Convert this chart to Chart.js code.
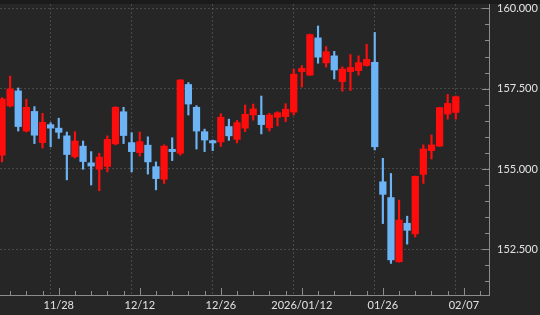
<!DOCTYPE html>
<html>
<head>
<meta charset="utf-8">
<script src="https://cdn.jsdelivr.net/npm/chart.js@4.4.1/dist/chart.umd.min.js"></script>
<style>
  html, body { margin: 0; padding: 0; background: #262626; }
  canvas { display: block; }
</style>
</head>
<body>
<canvas id="chart" width="540" height="315"></canvas>
<script>
// daily candles, left to right (index 0 is the first visible bar)
const opens  = [155.43, 156.96, 157.43, 156.18, 156.79, 155.82, 156.38, 156.27, 156.03, 155.38,
                155.71, 155.19, 154.99, 155.08, 155.78, 156.78, 155.82, 155.51, 155.74, 155.07,
                154.68, 155.61, 155.49, 157.63, 156.92, 156.16, 155.88, 155.84, 156.32, 155.92,
                156.27, 156.68, 156.67, 156.28, 156.61, 156.63, 156.77, 158.03, 157.92, 159.08,
                158.30, 158.52, 157.72, 158.03, 158.06, 158.22, 158.32, 154.60, 154.11, 152.11,
                153.31, 152.98, 154.83, 155.57, 155.71, 156.71, 156.76];
const highs  = [157.22, 157.89, 157.52, 157.17, 156.94, 156.73, 156.44, 156.58, 156.15, 156.16,
                155.87, 155.54, 155.49, 156.03, 156.94, 156.92, 156.13, 156.15, 156.00, 155.22,
                155.75, 155.97, 157.78, 157.69, 156.97, 156.24, 155.90, 156.72, 156.55, 156.51,
                156.99, 157.02, 157.27, 156.73, 156.78, 157.03, 158.11, 158.22, 159.20, 159.45,
                158.81, 158.66, 158.18, 158.56, 158.52, 158.88, 159.25, 155.33, 154.86, 154.03,
                153.53, 154.78, 155.75, 156.06, 156.92, 157.32, 157.27];
const lows   = [155.22, 156.93, 156.18, 156.15, 155.79, 155.65, 155.69, 155.95, 154.66, 155.34,
                154.99, 154.50, 154.32, 154.91, 155.75, 155.79, 154.91, 155.40, 154.84, 154.35,
                154.55, 155.26, 155.43, 156.68, 155.62, 155.54, 155.57, 155.70, 155.89, 155.81,
                156.16, 156.52, 156.09, 156.18, 156.34, 156.47, 156.68, 157.55, 157.91, 158.29,
                158.17, 157.80, 157.42, 157.44, 157.92, 158.20, 155.59, 153.30, 152.06, 152.10,
                152.66, 152.88, 154.55, 155.31, 155.70, 156.55, 156.55];
const closes = [157.18, 157.49, 156.32, 156.92, 156.05, 156.45, 156.27, 156.14, 155.45, 155.87,
                155.23, 155.09, 155.37, 155.92, 156.92, 156.04, 155.54, 155.85, 155.22, 154.70,
                155.71, 155.54, 157.77, 157.02, 156.18, 155.90, 155.81, 156.61, 156.03, 156.44,
                156.70, 156.87, 156.38, 156.68, 156.75, 156.86, 157.95, 158.13, 159.18, 158.48,
                158.65, 158.08, 158.11, 158.16, 158.31, 158.41, 155.69, 154.21, 152.17, 153.41,
                153.09, 154.77, 155.62, 155.75, 156.91, 157.04, 157.25];

// x axis: labelled bars and the minor tick bars
const labelIdx  = [7, 17, 27, 37, 47, 57];
const labelText = ['11/28', '12/12', '12/26', '2026/01/12', '01/26', '02/07'];
const xTicks = [1, 3, 5, 7, 9, 11, 13, 15, 17, 19, 21, 23, 25, 27, 29, 31, 33, 35, 37, 39,
                41, 43, 45, 47, 49, 51, 53, 55, 57, 59];
// y axis ticks, labelled every 2.5
const yTicks = [151.5, 152, 152.5, 153, 153.5, 154, 154.5, 155, 155.5, 156, 156.5, 157,
                157.5, 158, 158.5, 159, 159.5, 160];

const RED = '#ff0d0d';
const BLUE = '#6db4f7';
const TEXT = '#e2e2e2';
const AXIS = '#8c8c8c';
const GRID = 'rgba(255,255,255,0.16)';

const isMajorY = v => Math.abs(v / 2.5 - Math.round(v / 2.5)) < 1e-6;
const candleColor = ctx => closes[ctx.dataIndex] >= opens[ctx.dataIndex] ? RED : BLUE;
const idx = opens.map((_, i) => i);

// keep the plot area fixed: no extra room for the edge labels
const fixPadding = s => {
  s.paddingTop = 0; s.paddingBottom = 0;
  s.paddingLeft = 0; s.paddingRight = 0;
};

// background, top band and the inward tick marks
const axisDeco = {
  id: 'axisDeco',
  beforeDraw(chart) {
    const c = chart.ctx;
    c.save();
    c.fillStyle = '#262626';
    c.fillRect(0, 0, chart.width, chart.height);
    c.fillStyle = '#1b1b1b';
    c.fillRect(0, 0, chart.width, chart.chartArea.top);
    c.restore();
  },
  afterDraw(chart) {
    const c = chart.ctx, a = chart.chartArea;
    const xs = chart.scales.x, ys = chart.scales.y;
    c.save();
    c.strokeStyle = AXIS;
    c.lineWidth = 1;
    c.beginPath();
    yTicks.forEach(v => {
      const py = Math.round(ys.getPixelForValue(v)) + 0.5;
      const len = isMajorY(v) ? 7 : 4;
      c.moveTo(a.right - len, py);
      c.lineTo(a.right, py);
    });
    xTicks.forEach(v => {
      const px = Math.round(xs.getPixelForValue(v)) + 0.5;
      const len = labelIdx.includes(v) ? 7 : 4;
      c.moveTo(px, a.bottom);
      c.lineTo(px, a.bottom - len);
    });
    c.stroke();
    c.restore();
  }
};

new Chart(document.getElementById('chart'), {
  type: 'bar',
  data: {
    datasets: [
      {
        label: 'body',
        data: idx.map(i => ({ x: i, y: [opens[i], closes[i]] })),
        backgroundColor: candleColor,
        barThickness: 6.6,
        grouped: false,
        borderWidth: 0
      },
      {
        label: 'wick',
        data: idx.map(i => ({ x: i, y: [lows[i], highs[i]] })),
        backgroundColor: candleColor,
        barThickness: 1.5,
        grouped: false,
        borderWidth: 0
      }
    ]
  },
  options: {
    responsive: false,
    animation: false,
    layout: { padding: { top: 4, left: 0, right: 0, bottom: 0 } },
    plugins: { legend: { display: false }, tooltip: { enabled: false } },
    scales: {
      x: {
        type: 'linear',
        min: -0.25,
        max: 60.1,
        offset: false,
        afterBuildTicks: s => { s.ticks = xTicks.map(v => ({ value: v })); },
        afterFit: s => { s.height = 20; fixPadding(s); },
        grid: {
          drawTicks: false,
          color: ctx => ctx.tick && labelIdx.includes(ctx.tick.value) ? GRID : 'transparent'
        },
        border: { display: true, color: AXIS, dash: [2, 2] },
        ticks: {
          autoSkip: false,
          maxRotation: 0,
          padding: 4,
          color: TEXT,
          font: { family: 'Lato', size: 11 },
          callback: v => {
            const k = labelIdx.indexOf(v);
            return k >= 0 ? labelText[k] : '';
          }
        }
      },
      y: {
        type: 'linear',
        position: 'right',
        min: 151.077,
        max: 160.134,
        afterBuildTicks: s => { s.ticks = yTicks.map(v => ({ value: v })); },
        afterFit: s => { s.width = 51; fixPadding(s); },
        grid: {
          drawTicks: false,
          color: ctx => ctx.tick && isMajorY(ctx.tick.value) ? GRID : 'transparent'
        },
        border: { display: true, color: AXIS, dash: [2, 2] },
        ticks: {
          padding: 8,
          color: TEXT,
          font: { family: 'Lato', size: 11 },
          callback: v => isMajorY(v) ? v.toFixed(3) : ''
        }
      }
    }
  },
  plugins: [axisDeco]
});
</script>
</body>
</html>
